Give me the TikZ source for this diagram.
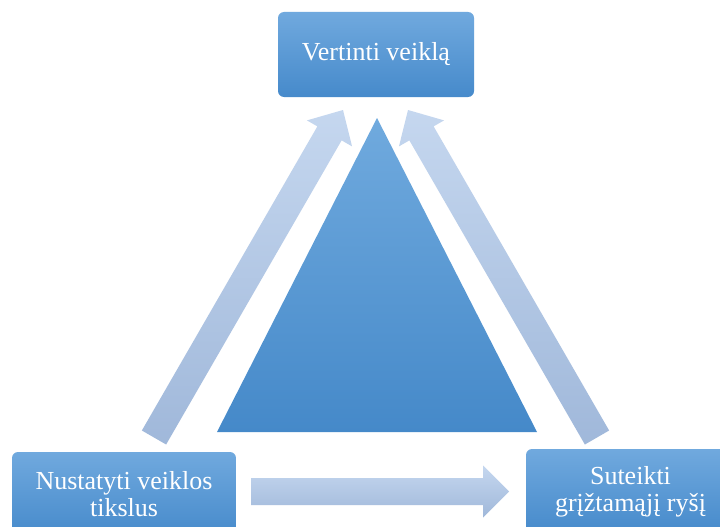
\documentclass[tikz,border=0pt]{standalone}
\usepackage{fontspec}
\setmainfont{Liberation Serif}
\usetikzlibrary{calc}
\definecolor{boxtop}{RGB}{112,169,222}
\definecolor{boxbot}{RGB}{70,138,203}
\definecolor{tritop}{RGB}{112,170,222}
\definecolor{tribot}{RGB}{69,137,201}
\definecolor{arrtop}{RGB}{197,215,239}
\definecolor{arrbot}{RGB}{160,184,218}
\newcommand\myfatarrow[5]{% tail, tip, shaft half width, head half width, head length
  \path let \p1 = ($(#2)!#5!(#1)$) in
    coordinate (h) at (\p1);
  \shade[arrowfill]
    ($(#1)!#3!90:(#2)$) -- ($(h)!#3!90:(#2)$) -- ($(h)!#4!90:(#2)$) -- (#2)
    -- ($(h)!#4!-90:(#2)$) -- ($(h)!#3!-90:(#2)$) -- ($(#1)!#3!-90:(#2)$) -- cycle;
}
\begin{document}
\begin{tikzpicture}[x=1pt,y=-1pt,
  box/.style={rectangle, rounded corners=6pt, top color=boxtop, bottom color=boxbot,
    draw=none, text=white, align=center, inner sep=0pt,
    font=\fontsize{26}{27}\selectfont},
  arrowfill/.style={top color=arrtop, bottom color=arrbot, draw=none}]
\useasboundingbox (0,0) rectangle (720,527);
\clip (0,0) rectangle (720,527);
\fill[white] (0,0) rectangle (720,527);
% triangle
\coordinate (tA) at (377,118);
\coordinate (tL) at (217,432);
\coordinate (tR) at (537,432);
\shade[top color=tritop, bottom color=tribot] (tA) -- (tR) -- (tL) -- cycle;
% nodes
\node[box, minimum width=196pt, minimum height=85pt] (top) at (376,54.5) {Vertinti veiklą};
\node[box, minimum width=224pt, minimum height=85pt] (nl) at (124,494.5)
  {Nustatyti veiklos\\tikslus};
\node[box, minimum width=209pt, minimum height=85pt] (nr) at (630.5,491.5)
  {Suteikti\\grįžtamąjį ryšį};
% arrows
\coordinate (laT) at (154,437.5);
\coordinate (laH) at (343,110);
\coordinate (raT) at (597,437.5);
\coordinate (raH) at (408,110);
\coordinate (baT) at (251,491.5);
\coordinate (baH) at (509,491.5);
\myfatarrow{laT}{laH}{14pt}{26pt}{27pt}
\myfatarrow{raT}{raH}{14pt}{26pt}{27pt}
\myfatarrow{baT}{baH}{13.5pt}{26pt}{26pt}
\end{tikzpicture}
\end{document}
